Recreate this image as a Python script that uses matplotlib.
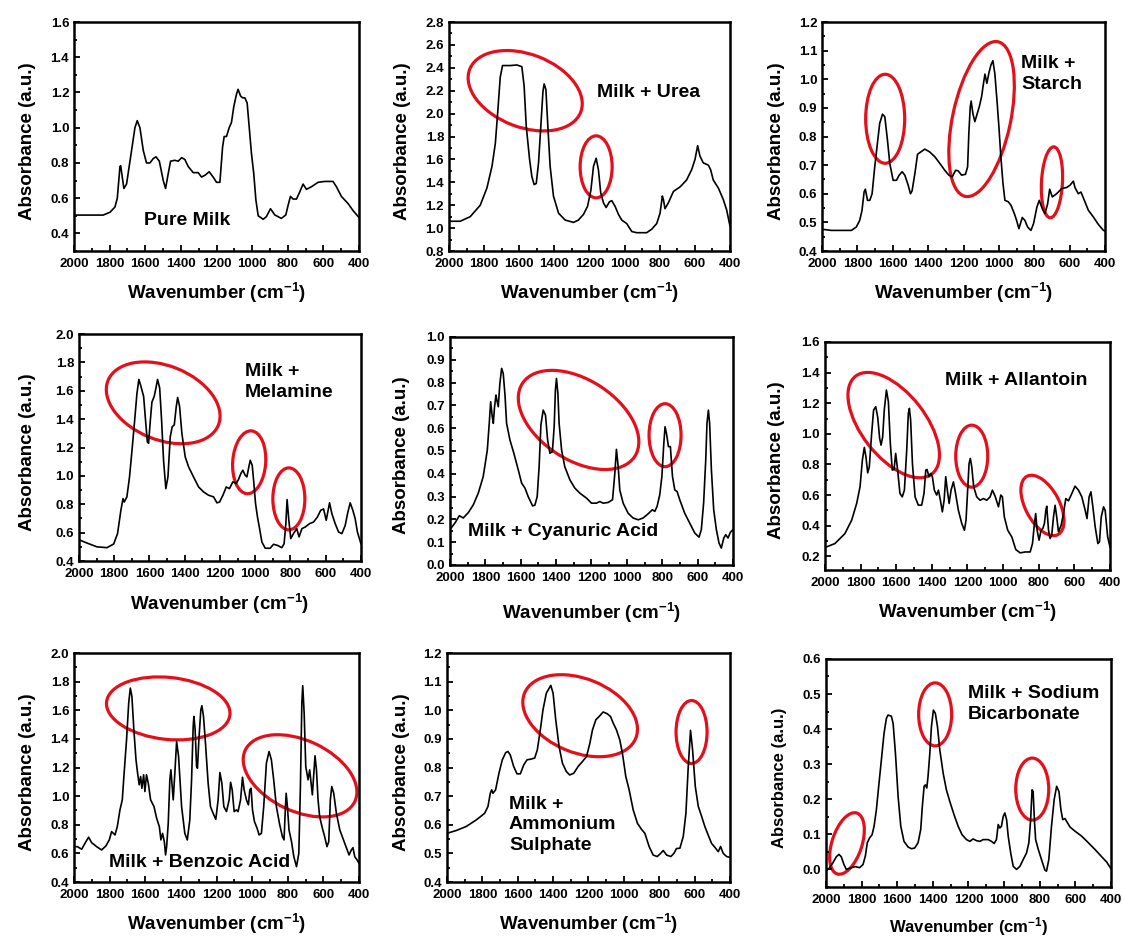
import matplotlib
matplotlib.use('Agg')
import matplotlib.pyplot as plt
import matplotlib.transforms as mtransforms
from matplotlib.patches import Ellipse
from matplotlib.ticker import MultipleLocator, AutoMinorLocator, FormatStrFormatter

plt.rcParams['font.family'] = ['Liberation Sans', 'DejaVu Sans']
plt.rcParams['font.weight'] = 'bold'
plt.rcParams['mathtext.fontset'] = 'custom'
plt.rcParams['mathtext.rm'] = 'Liberation Sans:bold'
plt.rcParams['mathtext.bf'] = 'Liberation Sans:bold'
plt.rcParams['mathtext.default'] = 'rm'

# ---- spectra (wavenumber cm-1, absorbance a.u.) ----
pure_wn = [2000, 1836, 1798, 1770, 1757, 1742, 1738, 1720, 1705, 1677, 1658, 1645, 1630, 1611, 1593, 1574,
           1555, 1540, 1521, 1499, 1486, 1471, 1458, 1434, 1415, 1396, 1378, 1359, 1331, 1303, 1284, 1265,
           1241, 1219, 1200, 1181, 1166, 1157, 1144, 1129, 1116, 1103, 1088, 1079, 1065, 1054, 1041, 1028,
           1017, 1004, 991, 979, 966, 938, 920, 897, 873, 836, 811, 798, 785, 770, 751, 733, 714, 695, 667,
           630, 593, 546, 527, 499, 462, 434, 400]
pure_ab = [0.504, 0.504, 0.52, 0.55, 0.60, 0.78, 0.784, 0.655, 0.68, 0.87, 1.00, 1.04, 1.00, 0.87, 0.80, 0.80,
           0.825, 0.835, 0.81, 0.70, 0.655, 0.74, 0.81, 0.815, 0.81, 0.83, 0.82, 0.78, 0.745, 0.745, 0.72, 0.73,
           0.75, 0.72, 0.69, 0.69, 0.89, 0.95, 0.95, 1.00, 1.03, 1.12, 1.19, 1.218, 1.18, 1.17, 1.17, 1.14,
           1.01, 0.855, 0.74, 0.59, 0.50, 0.48, 0.495, 0.54, 0.505, 0.485, 0.505, 0.56, 0.61, 0.595, 0.595,
           0.635, 0.68, 0.65, 0.665, 0.69, 0.695, 0.695, 0.665, 0.61, 0.57, 0.53, 0.49]

urea_wn = [2000, 1936, 1879, 1822, 1784, 1755, 1736, 1723, 1708, 1695, 1651, 1613, 1585, 1572, 1560, 1541,
           1528, 1515, 1503, 1490, 1477, 1465, 1458, 1448, 1437, 1424, 1405, 1376, 1338, 1291, 1263, 1234,
           1211, 1192, 1177, 1162, 1149, 1136, 1120, 1105, 1086, 1073, 1054, 1035, 1016, 988, 959, 931, 874,
           846, 817, 798, 785, 779, 770, 751, 722, 684, 647, 618, 599, 584, 571, 552, 523, 510, 495, 466, 438,
           419, 400]
urea_ab = [1.06, 1.06, 1.10, 1.20, 1.35, 1.54, 1.74, 2.00, 2.32, 2.42, 2.42, 2.425, 2.41, 2.24, 1.89, 1.60,
           1.45, 1.38, 1.39, 1.57, 1.89, 2.19, 2.26, 2.21, 1.89, 1.54, 1.28, 1.13, 1.07, 1.05, 1.07, 1.12,
           1.19, 1.33, 1.54, 1.61, 1.51, 1.31, 1.22, 1.18, 1.23, 1.24, 1.19, 1.12, 1.07, 1.04, 0.97, 0.96, 0.96,
           0.99, 1.04, 1.13, 1.28, 1.25, 1.17, 1.22, 1.32, 1.36, 1.42, 1.51, 1.60, 1.72, 1.63, 1.57, 1.55, 1.51,
           1.42, 1.35, 1.25, 1.16, 1.02]

starch_wn = [2000, 1947, 1834, 1806, 1787, 1774, 1762, 1755, 1743, 1730, 1717, 1702, 1687, 1674, 1658, 1645,
             1630, 1617, 1598, 1579, 1564, 1547, 1532, 1513, 1500, 1491, 1475, 1460, 1442, 1419, 1391, 1362,
             1334, 1306, 1283, 1264, 1245, 1230, 1211, 1189, 1177, 1170, 1162, 1157, 1147, 1136, 1125, 1111,
             1098, 1087, 1079, 1068, 1057, 1045, 1034, 1023, 1011, 1000, 989, 977, 966, 947, 932, 913, 900,
             887, 868, 853, 838, 819, 804, 785, 772, 755, 740, 725, 713, 698, 674, 645, 617, 598, 579, 570,
             551, 536, 517, 494, 466, 438, 409, 400]
starch_ab = [0.476, 0.472, 0.472, 0.484, 0.507, 0.542, 0.607, 0.616, 0.577, 0.577, 0.60, 0.694, 0.776, 0.846,
             0.878, 0.869, 0.787, 0.706, 0.647, 0.647, 0.665, 0.677, 0.665, 0.63, 0.60, 0.61, 0.671, 0.738,
             0.746, 0.756, 0.746, 0.729, 0.706, 0.682, 0.665, 0.659, 0.682, 0.68, 0.665, 0.668, 0.694, 0.811,
             0.904, 0.924, 0.88, 0.852, 0.875, 0.904, 0.939, 0.986, 1.018, 0.986, 1.021, 1.05, 1.065, 1.02,
             0.927, 0.834, 0.729, 0.636, 0.577, 0.572, 0.56, 0.531, 0.507, 0.478, 0.517, 0.507, 0.484, 0.472,
             0.496, 0.554, 0.577, 0.548, 0.531, 0.563, 0.616, 0.589, 0.60, 0.618, 0.622, 0.63, 0.644, 0.622,
             0.60, 0.606, 0.577, 0.542, 0.519, 0.493, 0.472, 0.47]

melamine_wn = [2000, 1955, 1898, 1841, 1803, 1781, 1762, 1750, 1743, 1728, 1713, 1699, 1684, 1671, 1660, 1648,
               1633, 1622, 1612, 1605, 1595, 1586, 1573, 1563, 1554, 1542, 1531, 1520, 1507, 1495, 1482, 1471,
               1459, 1448, 1440, 1429, 1416, 1397, 1378, 1350, 1321, 1293, 1265, 1236, 1217, 1202, 1183, 1164,
               1146, 1127, 1108, 1095, 1081, 1070, 1057, 1047, 1036, 1028, 1017, 1009, 998, 987, 975, 962, 943,
               915, 896, 873, 849, 836, 826, 819, 809, 798, 783, 764, 751, 735, 716, 692, 669, 647, 628, 612,
               597, 578, 565, 546, 527, 508, 489, 476, 461, 446, 433, 420, 400]
melamine_ab = [0.55, 0.527, 0.50, 0.494, 0.52, 0.593, 0.758, 0.84, 0.816, 0.852, 0.993, 1.18, 1.39, 1.58, 1.68,
               1.63, 1.56, 1.39, 1.24, 1.23, 1.39, 1.52, 1.56, 1.62, 1.68, 1.62, 1.39, 1.11, 0.91, 0.993, 1.275,
               1.346, 1.36, 1.487, 1.553, 1.49, 1.30, 1.134, 1.064, 0.993, 0.922, 0.887, 0.864, 0.852, 0.81,
               0.816, 0.864, 0.922, 0.91, 0.958, 0.946, 0.974, 1.017, 1.04, 1.005, 0.993, 1.064, 1.11, 1.075,
               0.97, 0.805, 0.71, 0.628, 0.534, 0.49, 0.49, 0.518, 0.51, 0.494, 0.522, 0.663, 0.833, 0.687,
               0.558, 0.593, 0.628, 0.57, 0.628, 0.64, 0.663, 0.675, 0.71, 0.758, 0.767, 0.687, 0.81, 0.734,
               0.663, 0.605, 0.593, 0.652, 0.734, 0.81, 0.758, 0.70, 0.605, 0.522]

cyanuric_wn = [2000, 1972, 1947, 1925, 1896, 1868, 1840, 1812, 1789, 1778, 1770, 1761, 1755, 1748, 1740, 1735,
               1727, 1718, 1708, 1699, 1689, 1680, 1661, 1639, 1614, 1595, 1576, 1558, 1533, 1520, 1507, 1496,
               1486, 1473, 1460, 1448, 1435, 1421, 1411, 1404, 1398, 1390, 1383, 1369, 1351, 1322, 1294, 1266,
               1228, 1200, 1172, 1153, 1134, 1106, 1081, 1068, 1059, 1049, 1040, 1021, 993, 965, 936, 908, 880,
               856, 842, 829, 814, 802, 791, 784, 776, 765, 754, 742, 729, 716, 701, 673, 645, 616, 592, 579,
               566, 554, 547, 539, 532, 522, 509, 494, 479, 466, 452, 441, 428, 415, 400]
cyanuric_ab = [0.155, 0.184, 0.216, 0.206, 0.23, 0.264, 0.315, 0.388, 0.504, 0.621, 0.716, 0.65, 0.621, 0.694,
               0.745, 0.723, 0.694, 0.796, 0.862, 0.84, 0.745, 0.621, 0.548, 0.49, 0.417, 0.359, 0.337, 0.30,
               0.259, 0.262, 0.30, 0.431, 0.614, 0.679, 0.657, 0.548, 0.49, 0.497, 0.606, 0.767, 0.818, 0.752,
               0.621, 0.504, 0.431, 0.373, 0.337, 0.315, 0.293, 0.271, 0.271, 0.278, 0.271, 0.274, 0.286, 0.402,
               0.507, 0.431, 0.329, 0.271, 0.227, 0.206, 0.198, 0.206, 0.224, 0.242, 0.235, 0.257, 0.308, 0.388,
               0.534, 0.606, 0.577, 0.519, 0.519, 0.388, 0.329, 0.322, 0.286, 0.227, 0.184, 0.14, 0.122, 0.155,
               0.271, 0.461, 0.621, 0.679, 0.621, 0.417, 0.242, 0.155, 0.096, 0.074, 0.118, 0.133, 0.118, 0.143,
               0.155]

allantoin_wn = [2000, 1944, 1888, 1850, 1822, 1803, 1790, 1779, 1770, 1760, 1751, 1738, 1727, 1715, 1704, 1693,
                1685, 1676, 1667, 1655, 1644, 1633, 1622, 1612, 1603, 1592, 1579, 1566, 1554, 1541, 1532, 1526,
                1519, 1509, 1494, 1476, 1457, 1444, 1434, 1427, 1416, 1406, 1397, 1386, 1373, 1363, 1352, 1341,
                1331, 1322, 1313, 1303, 1292, 1279, 1270, 1251, 1232, 1217, 1208, 1199, 1191, 1184, 1176, 1165,
                1148, 1129, 1110, 1092, 1073, 1060, 1045, 1026, 1013, 1004, 993, 974, 951, 929, 904, 876, 848,
                835, 824, 817, 809, 798, 787, 777, 768, 760, 755, 745, 736, 727, 717, 708, 699, 689, 674, 661,
                648, 633, 618, 596, 577, 558, 539, 529, 517, 507, 496, 483, 468, 459, 449, 436, 427, 413, 400]
allantoin_ab = [0.257, 0.283, 0.348, 0.436, 0.545, 0.654, 0.828, 0.911, 0.85, 0.745, 0.784, 1.00, 1.155, 1.177,
                1.11, 0.97, 0.926, 0.98, 1.155, 1.286, 1.21, 0.937, 0.763, 0.767, 0.872, 0.763, 0.61, 0.588,
                0.632, 0.894, 1.133, 1.166, 1.09, 0.806, 0.588, 0.534, 0.534, 0.61, 0.763, 0.767, 0.72, 0.741,
                0.72, 0.632, 0.60, 0.632, 0.566, 0.49, 0.566, 0.72, 0.632, 0.545, 0.632, 0.686, 0.632, 0.50,
                0.414, 0.37, 0.436, 0.632, 0.806, 0.839, 0.785, 0.654, 0.588, 0.566, 0.577, 0.566, 0.588, 0.632,
                0.593, 0.523, 0.60, 0.588, 0.457, 0.37, 0.326, 0.244, 0.222, 0.228, 0.228, 0.283, 0.414, 0.479,
                0.37, 0.305, 0.37, 0.381, 0.414, 0.50, 0.527, 0.37, 0.316, 0.337, 0.457, 0.533, 0.457, 0.359,
                0.403, 0.479, 0.577, 0.562, 0.60, 0.658, 0.632, 0.588, 0.50, 0.446, 0.588, 0.621, 0.523, 0.392,
                0.283, 0.294, 0.457, 0.523, 0.50, 0.327, 0.261]

benzoic_wn = [2000, 1981, 1957, 1933, 1918, 1901, 1873, 1845, 1821, 1802, 1789, 1770, 1757, 1742, 1729, 1720,
              1705, 1693, 1684, 1675, 1664, 1652, 1643, 1634, 1626, 1619, 1609, 1602, 1593, 1583, 1570, 1551,
              1536, 1521, 1512, 1503, 1493, 1486, 1480, 1471, 1462, 1456, 1449, 1443, 1434, 1424, 1413, 1396,
              1378, 1364, 1350, 1340, 1331, 1327, 1320, 1312, 1307, 1299, 1288, 1282, 1273, 1262, 1247, 1234,
              1219, 1204, 1191, 1181, 1170, 1159, 1144, 1129, 1121, 1112, 1101, 1088, 1079, 1065, 1054, 1045,
              1032, 1021, 1013, 1006, 998, 987, 972, 961, 948, 935, 920, 905, 892, 879, 864, 845, 830, 821, 813,
              809, 802, 793, 779, 766, 751, 738, 729, 721, 716, 708, 699, 686, 677, 667, 662, 654, 647, 639, 630,
              621, 608, 593, 580, 570, 561, 553, 542, 527, 508, 480, 456, 443, 434, 424, 411, 400]
benzoic_ab = [0.647, 0.647, 0.629, 0.682, 0.713, 0.675, 0.647, 0.624, 0.652, 0.694, 0.752, 0.729, 0.787, 0.904,
              0.974, 1.137, 1.394, 1.65, 1.755, 1.697, 1.464, 1.254, 1.16, 1.079, 1.137, 1.055, 1.149, 1.032,
              1.149, 1.09, 0.974, 0.927, 0.845, 0.787, 0.694, 0.74, 0.682, 0.589, 0.647, 0.81, 1.114, 1.184,
              1.067, 0.974, 1.16, 1.382, 1.277, 0.927, 0.74, 0.694, 0.834, 1.114, 1.487, 1.557, 1.464, 1.207,
              1.195, 1.394, 1.604, 1.632, 1.557, 1.37, 1.09, 0.927, 0.88, 0.838, 0.974, 1.165, 1.09, 0.927,
              0.892, 0.974, 1.097, 1.044, 0.892, 0.904, 0.892, 0.974, 1.132, 1.044, 0.974, 0.939, 1.044, 1.055,
              0.904, 0.822, 0.775, 0.729, 0.74, 0.927, 1.23, 1.312, 1.254, 1.114, 0.927, 0.799, 0.717, 0.694,
              0.927, 1.02, 0.927, 0.764, 0.682, 0.577, 0.507, 0.60, 1.067, 1.65, 1.772, 1.58, 1.207, 1.114,
              1.184, 1.067, 1.009, 1.16, 1.282, 1.184, 0.974, 0.857, 0.787, 0.717, 0.647, 0.682, 0.974, 1.067,
              1.02, 0.88, 0.764, 0.67, 0.589, 0.624, 0.64, 0.577, 0.554, 0.531]

ammonium_wn = [2000, 1947, 1891, 1834, 1787, 1768, 1755, 1747, 1740, 1725, 1706, 1687, 1668, 1655, 1642, 1623,
               1604, 1585, 1566, 1547, 1528, 1504, 1489, 1472, 1457, 1438, 1413, 1400, 1385, 1366, 1347, 1325,
               1306, 1283, 1258, 1234, 1211, 1192, 1177, 1158, 1140, 1117, 1094, 1075, 1060, 1042, 1023, 1008,
               989, 970, 947, 923, 900, 881, 857, 834, 811, 792, 777, 758, 734, 717, 702, 683, 664, 649, 636,
               623, 611, 596, 579, 560, 542, 523, 504, 485, 466, 453, 438, 419, 400]
ammonium_ab = [0.57, 0.58, 0.594, 0.617, 0.64, 0.664, 0.71, 0.722, 0.71, 0.722, 0.78, 0.827, 0.852, 0.856, 0.844,
               0.804, 0.778, 0.778, 0.809, 0.827, 0.829, 0.833, 0.862, 0.932, 1.002, 1.06, 1.087, 1.06, 0.967,
               0.873, 0.815, 0.786, 0.774, 0.78, 0.804, 0.821, 0.838, 0.885, 0.932, 0.967, 0.978, 0.994, 0.988,
               0.978, 0.955, 0.932, 0.897, 0.85, 0.769, 0.722, 0.652, 0.605, 0.584, 0.57, 0.524, 0.494, 0.489,
               0.50, 0.51, 0.494, 0.489, 0.50, 0.517, 0.518, 0.559, 0.64, 0.80, 0.93, 0.86, 0.734, 0.664, 0.629,
               0.594, 0.564, 0.535, 0.521, 0.506, 0.524, 0.50, 0.489, 0.486]

bicarb_wn = [2000, 1979, 1961, 1942, 1927, 1914, 1899, 1886, 1858, 1835, 1811, 1792, 1779, 1768, 1755, 1741,
             1730, 1717, 1704, 1689, 1674, 1661, 1652, 1633, 1623, 1610, 1595, 1580, 1562, 1539, 1520, 1502,
             1483, 1468, 1459, 1449, 1442, 1434, 1427, 1417, 1408, 1397, 1386, 1374, 1361, 1342, 1324, 1305,
             1281, 1258, 1236, 1211, 1192, 1174, 1155, 1136, 1118, 1089, 1071, 1056, 1043, 1033, 1024, 1015,
             1005, 996, 986, 977, 963, 949, 930, 911, 893, 874, 861, 851, 843, 837, 830, 823, 808, 790, 771,
             762, 749, 734, 719, 705, 692, 681, 671, 658, 649, 630, 602, 565, 527, 490, 452, 424, 400]
bicarb_ab = [-0.005, 0.005, 0.019, 0.036, 0.043, 0.036, 0.014, 0.0, 0.005, 0.008, 0.005, 0.014, 0.038, 0.076,
             0.09, 0.099, 0.123, 0.17, 0.237, 0.312, 0.388, 0.43, 0.44, 0.437, 0.416, 0.331, 0.208, 0.123, 0.08,
             0.064, 0.059, 0.061, 0.076, 0.114, 0.18, 0.237, 0.241, 0.232, 0.265, 0.331, 0.407, 0.454, 0.445,
             0.407, 0.341, 0.274, 0.227, 0.194, 0.156, 0.123, 0.099, 0.085, 0.08, 0.087, 0.082, 0.08, 0.085,
             0.085, 0.08, 0.074, 0.085, 0.128, 0.118, 0.123, 0.151, 0.161, 0.142, 0.095, 0.047, 0.009, 0.0,
             0.009, 0.028, 0.047, 0.076, 0.142, 0.227, 0.222, 0.142, 0.085, 0.057, 0.028, -0.002, -0.005, 0.028,
             0.123, 0.199, 0.237, 0.222, 0.17, 0.142, 0.145, 0.137, 0.121, 0.109, 0.095, 0.076, 0.057, 0.036,
             0.021, 0.002]

names = ['Pure Milk', 'Milk + Urea', 'Milk +\nStarch', 'Milk +\nMelamine', 'Milk + Cyanuric Acid',
         'Milk + Allantoin', 'Milk + Benzoic Acid', 'Milk +\nAmmonium\nSulphate', 'Milk + Sodium\nBicarbonate']
spectra = [(pure_wn, pure_ab), (urea_wn, urea_ab), (starch_wn, starch_ab), (melamine_wn, melamine_ab),
           (cyanuric_wn, cyanuric_ab), (allantoin_wn, allantoin_ab), (benzoic_wn, benzoic_ab),
           (ammonium_wn, ammonium_ab), (bicarb_wn, bicarb_ab)]
ylims = [(0.3, 1.6), (0.8, 2.8), (0.4, 1.2), (0.4, 2.0), (0.0, 1.0), (0.11, 1.6), (0.4, 2.0), (0.4, 1.2), (-0.05, 0.6)]
ysteps = [0.2, 0.2, 0.1, 0.2, 0.1, 0.2, 0.2, 0.1, 0.1]

# red rings: centre (wavenumber, absorbance), width px, height px, angle deg
rings = [
    [],
    [(1566, 2.20, 119, 73, -21), (1162, 1.535, 32, 62, 0)],
    [(1643, 0.862, 39, 89, 0), (1098, 0.861, 58, 158, -12), (700, 0.64, 21, 71, -3)],
    [(1522, 1.515, 119, 74, -22), (1034, 1.096, 33, 63, -4), (809, 0.838, 32, 62, 0)],
    [(1273, 0.636, 134, 80, -33), (784, 0.569, 32, 63, 0)],
    [(1614, 1.057, 124, 64, -52), (1176, 0.854, 32, 62, 0), (779, 0.532, 66, 34, -62)],
    [(1471, 1.613, 124, 62, -6), (731, 1.142, 121, 71, -25)],
    [(1247, 0.981, 120, 74, -22), (617, 0.924, 31, 63, 0)],
    [(1882, 0.074, 64, 30, 72), (1387, 0.442, 33, 63, 0), (842, 0.229, 33, 62, 0)],
]

rects = [[0.0659, 0.7324, 0.2538, 0.2441], [0.3998, 0.7324, 0.2502, 0.2441], [0.7320, 0.7324, 0.2520, 0.2441],
         [0.0703, 0.4019, 0.2511, 0.2420], [0.4007, 0.3977, 0.2520, 0.2431], [0.7346, 0.3923, 0.2538, 0.2431],
         [0.0659, 0.0597, 0.2538, 0.2441], [0.3980, 0.0597, 0.2520, 0.2441], [0.7355, 0.0544, 0.2538, 0.2431]]
text_pos = [(0.396, 0.135, 'center'), (0.712, 0.694, 'center'), (0.703, 0.773, 'left'),
            (0.589, 0.789, 'left'), (0.399, 0.145, 'center'), (0.67, 0.833, 'center'),
            (0.442, 0.083, 'center'), (0.219, 0.249, 'left'), (0.498, 0.803, 'left')]
xlab_y = [-0.185, -0.185, -0.185, -0.187, -0.21, -0.182, -0.182, -0.182, -0.172]
ylab_x = [-0.163, -0.166, -0.161, -0.183, -0.172, -0.17, -0.163, -0.161, -0.163]
lab_size = [13.5, 13.5, 13.5, 13.5, 13.5, 13.5, 13.5, 13.5, 12]

fig = plt.figure(figsize=(11.23, 9.38), dpi=100)
for i in range(9):
    ax = fig.add_axes(rects[i])
    wn, ab = spectra[i]
    ax.plot(wn, ab, color='black', lw=1.2)
    ax.set_xlim(2000, 400)
    ax.set_ylim(*ylims[i])
    ax.xaxis.set_major_locator(MultipleLocator(200))
    ax.xaxis.set_minor_locator(AutoMinorLocator(2))
    ax.yaxis.set_major_locator(MultipleLocator(ysteps[i]))
    ax.yaxis.set_minor_locator(AutoMinorLocator(2))
    ax.yaxis.set_major_formatter(FormatStrFormatter('%.1f'))
    ax.tick_params(which='both', direction='in', top=False, right=False, width=1.3)
    ax.tick_params(which='major', length=4.5, labelsize=9.5)
    ax.tick_params(axis='x', which='major', pad=5)
    ax.tick_params(axis='y', which='major', pad=3.5)
    ax.tick_params(which='minor', length=2.5)
    for s in ax.spines.values():
        s.set_linewidth(1.8)
    ax.set_xlabel(r'Wavenumber (cm$^{-1}$)', fontsize=lab_size[i], fontweight='bold', va='center')
    ax.set_ylabel('Absorbance (a.u.)', fontsize=lab_size[i], fontweight='bold', va='center')
    ax.xaxis.set_label_coords(0.5, xlab_y[i])
    ax.yaxis.set_label_coords(ylab_x[i], 0.48)
    tx, ty, ha = text_pos[i]
    ax.text(tx, ty, names[i], transform=ax.transAxes, ha=ha, va='center', fontsize=14,
            fontweight='bold', linespacing=1.3)
    for cx, cy, w, h, ang in rings[i]:
        tr = fig.dpi_scale_trans + mtransforms.ScaledTranslation(cx, cy, ax.transData)
        ax.add_patch(Ellipse((0, 0), w / 100, h / 100, angle=ang, transform=tr, fill=False,
                             ec='#e3101c', lw=2.3, clip_on=False))

plt.savefig('out.png', dpi=100)
